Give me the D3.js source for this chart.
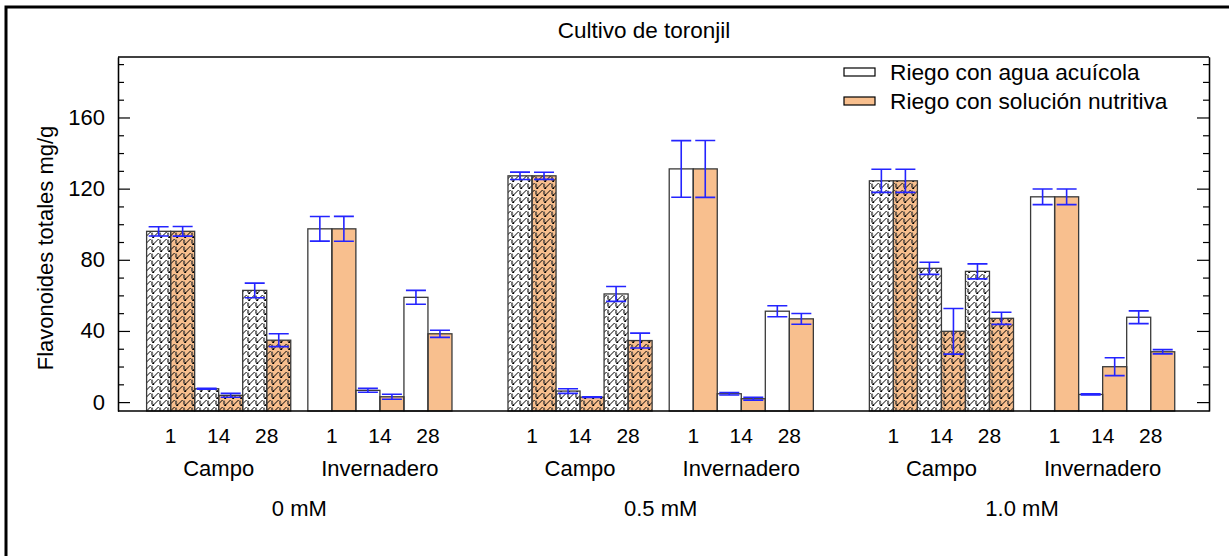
<!DOCTYPE html>
<html>
<head>
<meta charset="utf-8">
<script src="https://cdn.jsdelivr.net/npm/d3@7"></script>
<style>
  html, body { margin: 0; padding: 0; background: #fff; }
  svg { display: block; font-family: "Liberation Sans", Arial, sans-serif; }
</style>
</head>
<body>
<svg id="chart" width="1229" height="556"></svg>
<script>
// ---------------- data ----------------
const title = "Cultivo de toronjil";
const yLabel = "Flavonoides totales mg/g";
const concentrations = ["0 mM", "0.5 mM", "1.0 mM"];
const sites = ["Campo", "Invernadero"];
const days = ["1", "14", "28"];
const seriesNames = ["Riego con agua acuícola", "Riego con solución nutritiva"];
const yTicks = [0, 40, 80, 120, 160];
const yMinorTicks = [0, 10, 20, 30, 40, 50, 60, 70, 80, 90, 100, 110, 120, 130, 140, 150, 160, 170, 180, 190];

// order: concentration -> site -> day
const aguaValues = [96, 7.5, 62.8, 97.4, 6.6, 58.9,
                    127.2, 6.2, 60.8, 131.1, 4.7, 51.1,
                    124.4, 75.2, 73.5, 115.4, 4.3, 47.7];
const aguaErrors = [2.6, 0.3, 4.1, 6.9, 1.1, 3.9,
                    2.1, 1.3, 4.2, 15.9, 0.7, 3.1,
                    6.5, 3.4, 4.2, 4.4, 0.3, 3.6];
const nutriValues = [96, 3.8, 34.8, 97.4, 3.0, 38.4,
                     127.2, 2.8, 34.6, 131.1, 1.9, 46.8,
                     124.4, 39.8, 47.1, 115.4, 19.9, 28.3];
const nutriErrors = [2.7, 1.1, 3.6, 7.0, 1.4, 2.0,
                     2.0, 0.2, 4.2, 16.0, 0.8, 3.0,
                     6.5, 12.8, 3.4, 4.4, 5.0, 1.2];

// ---------------- build records ----------------
const records = [];
concentrations.forEach((c, ci) => {
  sites.forEach((s, si) => {
    days.forEach((d, di) => {
      const idx = ci * 6 + si * 3 + di;
      records.push({conc: c, site: s, day: d, series: seriesNames[0], value: aguaValues[idx], err: aguaErrors[idx]});
      records.push({conc: c, site: s, day: d, series: seriesNames[1], value: nutriValues[idx], err: nutriErrors[idx]});
    });
  });
});

// ---------------- layout ----------------
const svg = d3.select("#chart");
const W = 1229, H = 556;
const plot = {left: 118, right: 1209, top: 57, bottom: 411};
const colors = {"Riego con agua acuícola": "#ffffff", "Riego con solución nutritiva": "#f8bf8e"};
const errColor = "#2424ff";

// outer frame (left + top)
svg.append("path")
  .attr("d", `M6,${H} L6,7 L${W},7`)
  .attr("fill", "none").attr("stroke", "#000").attr("stroke-width", 3);

// hatch pattern for Campo bars
const defs = svg.append("defs");
const pat = defs.append("pattern")
  .attr("id", "hatch").attr("patternUnits", "userSpaceOnUse")
  .attr("width", 8).attr("height", 7);
pat.append("path").attr("d", "M1,6.5 L6.5,1")
  .attr("stroke", "#000").attr("stroke-width", 1).attr("fill", "none");
pat.append("path").attr("d", "M6.5,1 Q8.5,2.5 7.5,5.5")
  .attr("stroke", "#333").attr("stroke-width", 0.8).attr("fill", "none");
pat.append("path").attr("d", "M-0.5,1 Q1.5,2.5 0.5,5.5")
  .attr("stroke", "#333").attr("stroke-width", 0.8).attr("fill", "none");
pat.append("circle").attr("cx", 1.2).attr("cy", 6.2).attr("r", 1).attr("fill", "#000");

// scales
const xConc = d3.scaleBand().domain(concentrations).range([plot.left, plot.right])
  .paddingInner(0.155).paddingOuter(0.087).align(0.455);
const xSite = d3.scaleBand().domain(sites).range([0, xConc.bandwidth()])
  .paddingInner(0.106).paddingOuter(0);
const xDay = d3.scaleBand().domain(days).range([0, xSite.bandwidth()]).padding(0);
const xSer = d3.scaleBand().domain(seriesNames).range([0, xDay.bandwidth()]).padding(0);
const y = d3.scaleLinear().domain([-5, 194]).range([plot.bottom, plot.top]);

const barX = d => xConc(d.conc) + xSite(d.site) + xDay(d.day) + xSer(d.series);

// bars
const gBars = svg.append("g");
const base = y(y.domain()[0]);
gBars.selectAll("rect.fill").data(records).join("rect")
  .attr("class", "fill")
  .attr("x", barX).attr("width", xSer.bandwidth())
  .attr("y", d => y(d.value)).attr("height", d => base - y(d.value))
  .attr("fill", d => colors[d.series]);
gBars.selectAll("rect.hatch").data(records.filter(d => d.site === "Campo")).join("rect")
  .attr("class", "hatch")
  .attr("x", barX).attr("width", xSer.bandwidth())
  .attr("y", d => y(d.value)).attr("height", d => base - y(d.value))
  .attr("fill", "url(#hatch)");
gBars.selectAll("rect.outline").data(records).join("rect")
  .attr("class", "outline")
  .attr("x", barX).attr("width", xSer.bandwidth())
  .attr("y", d => y(d.value)).attr("height", d => base - y(d.value))
  .attr("fill", "none").attr("stroke", "#3a3a3a").attr("stroke-width", 1.3);

// error bars
const capW = 20;
const gErr = svg.append("g").attr("stroke", errColor).attr("stroke-width", 1.6).attr("fill", "none");
records.forEach(d => {
  const cx = barX(d) + xSer.bandwidth() / 2;
  const y1 = y(d.value + d.err), y2 = y(d.value - d.err);
  gErr.append("path")
    .attr("d", `M${cx},${y1} L${cx},${y2} M${cx - capW / 2},${y1} L${cx + capW / 2},${y1} M${cx - capW / 2},${y2} L${cx + capW / 2},${y2}`);
});

// axes
const axL = svg.append("g").attr("transform", `translate(${plot.left},0)`)
  .call(d3.axisLeft(y).tickValues(yTicks).tickSizeInner(-12).tickSizeOuter(0).tickPadding(13));
const axLm = svg.append("g").attr("transform", `translate(${plot.left},0)`)
  .call(d3.axisLeft(y).tickValues(yMinorTicks.filter(v => !yTicks.includes(v))).tickSizeInner(-6).tickSizeOuter(0).tickFormat(""));
const axR = svg.append("g").attr("transform", `translate(${plot.right},0)`)
  .call(d3.axisRight(y).tickValues(yTicks).tickSizeInner(-12).tickSizeOuter(0).tickFormat(""));
const axRm = svg.append("g").attr("transform", `translate(${plot.right},0)`)
  .call(d3.axisRight(y).tickValues(yMinorTicks.filter(v => !yTicks.includes(v))).tickSizeInner(-6).tickSizeOuter(0).tickFormat(""));
[axL, axLm, axR, axRm].forEach(g => {
  g.selectAll("line").attr("stroke", "#000").attr("stroke-width", 1.2);
  g.select(".domain").attr("stroke", "#000").attr("stroke-width", 1.3);
});
axL.selectAll("text").attr("font-size", 22).attr("fill", "#000")
  .attr("font-family", "'Liberation Sans', Arial, sans-serif");

// top and bottom frame lines
const xFrame = d3.scaleLinear().domain([0, 1]).range([plot.left, plot.right]);
svg.append("line").attr("x1", xFrame(0)).attr("x2", xFrame(1)).attr("y1", y(y.domain()[1])).attr("y2", y(y.domain()[1]))
  .attr("stroke", "#000").attr("stroke-width", 1.3);
svg.append("line").attr("x1", xFrame(0)).attr("x2", xFrame(1)).attr("y1", base).attr("y2", base)
  .attr("stroke", "#000").attr("stroke-width", 1.3);

// x labels: days, sites, concentrations
const gX = svg.append("g").attr("fill", "#000").attr("text-anchor", "middle");
concentrations.forEach(c => {
  sites.forEach(s => {
    days.forEach(d => {
      gX.append("text")
        .attr("x", xConc(c) + xSite(s) + xDay(d) + xDay.bandwidth() / 2)
        .attr("y", 443).attr("font-size", 21).text(d);
    });
    gX.append("text")
      .attr("x", xConc(c) + xSite(s) + xSite.bandwidth() / 2)
      .attr("y", 476).attr("font-size", 22).text(s);
  });
  gX.append("text")
    .attr("x", xConc(c) + xConc.bandwidth() / 2)
    .attr("y", 516).attr("font-size", 22).text(c);
});

// title
svg.append("text").attr("x", 644).attr("y", 38).attr("text-anchor", "middle")
  .attr("font-size", 22.5).text(title);

// y label
svg.append("text").attr("transform", "translate(53,248) rotate(-90)")
  .attr("text-anchor", "middle").attr("font-size", 22).text(yLabel);

// legend
const gLeg = svg.append("g").attr("transform", "translate(844,68)");
seriesNames.forEach((s, i) => {
  gLeg.append("rect").attr("x", 0).attr("y", i * 29).attr("width", 31).attr("height", 8)
    .attr("fill", colors[s]).attr("stroke", "#000").attr("stroke-width", 1.2);
  gLeg.append("text").attr("x", 46).attr("y", i * 29 + 12).attr("font-size", 22.7).text(s);
});
</script>
</body>
</html>
